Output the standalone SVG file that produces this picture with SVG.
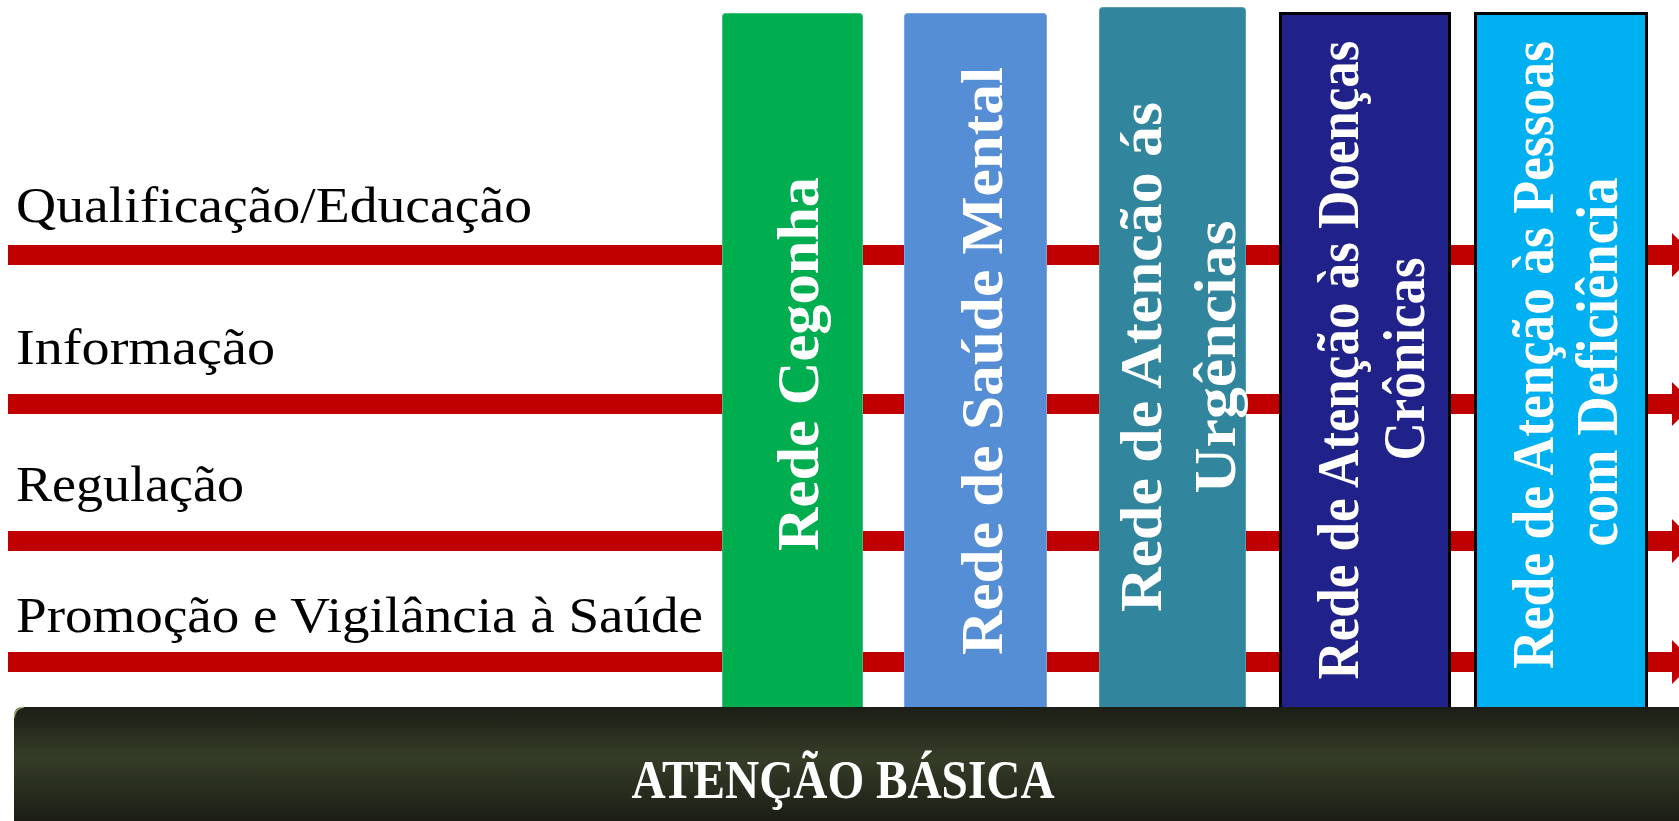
<svg xmlns="http://www.w3.org/2000/svg" width="1679" height="821" viewBox="0 0 1679 821">
  <defs>
    <linearGradient id="baseGrad" x1="0" y1="0" x2="0" y2="1">
      <stop offset="0" stop-color="#1c1e16"/>
      <stop offset="0.45" stop-color="#353d27"/>
      <stop offset="1" stop-color="#1b1d15"/>
    </linearGradient>
    <style>
      .lbl { font-family: "Liberation Serif", "DejaVu Serif", serif; font-size: 50px; fill: #000000; }
      .vt { font-family: "Liberation Serif", "DejaVu Serif", serif; font-weight: bold; font-size: 60px; fill: #ffffff; }
      .bar { fill: #c00000; }
      .boxdark { stroke: #000000; stroke-width: 3; }
    </style>
  </defs>
  <rect x="0" y="0" width="1679" height="821" fill="#ffffff"/>

  <g id="labels">
    <text class="lbl" x="16" y="222" textLength="516" lengthAdjust="spacingAndGlyphs">Qualificação/Educação</text>
    <text class="lbl" x="16" y="364" textLength="259" lengthAdjust="spacingAndGlyphs">Informação</text>
    <text class="lbl" x="16" y="501" textLength="228" lengthAdjust="spacingAndGlyphs">Regulação</text>
    <text class="lbl" x="16" y="632" textLength="687" lengthAdjust="spacingAndGlyphs">Promoção e Vigilância à Saúde</text>
  </g>

  <g id="connectors">
    <rect class="bar" x="8" y="245" width="1666" height="20"/>
    <polygon class="bar" points="1672,233 1694,255 1672,277"/>
    <rect class="bar" x="8" y="394" width="1666" height="20"/>
    <polygon class="bar" points="1672,382 1694,404 1672,426"/>
    <rect class="bar" x="8" y="531" width="1666" height="20"/>
    <polygon class="bar" points="1672,519 1694,541 1672,563"/>
    <rect class="bar" x="8" y="652" width="1666" height="20"/>
    <polygon class="bar" points="1672,640 1694,662 1672,684"/>
  </g>

  <g id="rede-cegonha">
    <rect x="722.5" y="13.5" width="140" height="700" rx="3" fill="#00ae50" stroke="#3cc07a"/>
    <text class="vt" transform="translate(818,364) rotate(-90)" text-anchor="middle" textLength="374" lengthAdjust="spacingAndGlyphs">Rede Cegonha</text>
  </g>

  <g id="rede-saude-mental">
    <rect x="904.5" y="13.5" width="142" height="700" rx="3" fill="#558ed5" stroke="#7aa6dd"/>
    <text class="vt" transform="translate(1002,361) rotate(-90)" text-anchor="middle" textLength="588" lengthAdjust="spacingAndGlyphs">Rede de Saúde Mental</text>
  </g>

  <g id="rede-urgencias">
    <rect x="1099.5" y="7.5" width="146" height="706" rx="3" fill="#31859c" stroke="#5b9db0"/>
    <text class="vt" transform="translate(1161,357) rotate(-90)" text-anchor="middle" textLength="510" lengthAdjust="spacingAndGlyphs">Rede de Atencão ás</text>
    <text class="vt" transform="translate(1235,357) rotate(-90)" text-anchor="middle" textLength="273" lengthAdjust="spacingAndGlyphs">Urgências</text>
  </g>

  <g id="rede-doencas-cronicas">
    <rect x="1280.5" y="13.5" width="169" height="697" class="boxdark" style="fill:#20228a"/>
    <text class="vt" transform="translate(1358,360) rotate(-90)" text-anchor="middle" textLength="639" lengthAdjust="spacingAndGlyphs">Rede de Atenção às Doenças</text>
    <text class="vt" transform="translate(1424,359) rotate(-90)" text-anchor="middle" textLength="203" lengthAdjust="spacingAndGlyphs">Crônicas</text>
  </g>

  <g id="rede-pessoas-deficiencia">
    <rect x="1475.5" y="13.5" width="171" height="697" class="boxdark" style="fill:#00b0f0"/>
    <text class="vt" transform="translate(1553,355) rotate(-90)" text-anchor="middle" textLength="628" lengthAdjust="spacingAndGlyphs">Rede de Atenção às Pessoas</text>
    <text class="vt" transform="translate(1617,362) rotate(-90)" text-anchor="middle" textLength="369" lengthAdjust="spacingAndGlyphs">com Deficiência</text>
  </g>

  <g id="atencao-basica">
    <path d="M14,716 Q14,707 23,707 L1679,707 L1679,821 L14,821 Z" fill="url(#baseGrad)"/>
    <path d="M14,718 Q15,708 24,707" fill="none" stroke="#b8d080" stroke-width="1.5" opacity="0.8"/>
    <text x="843" y="798" text-anchor="middle" textLength="423" lengthAdjust="spacingAndGlyphs" style="font-family: 'Liberation Serif', 'DejaVu Serif', serif; font-weight: bold; font-size: 54px; fill: #ffffff;">ATENÇÃO BÁSICA</text>
  </g>
</svg>
